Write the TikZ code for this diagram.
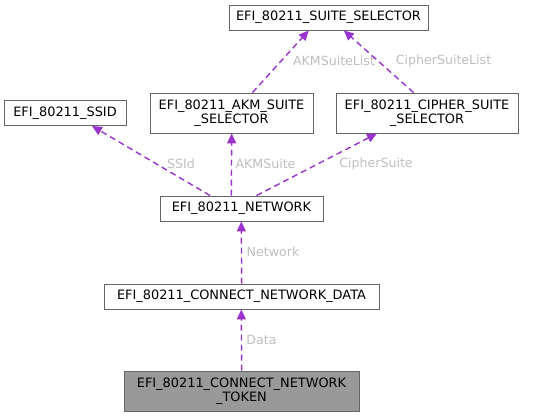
\documentclass[tikz,border=0pt]{standalone}
\usepackage{fontspec}
\setmainfont{DejaVu Sans}
\usepackage{tikz}
\usetikzlibrary{arrows.meta}

\definecolor{edgepurple}{HTML}{9A32CD}
\definecolor{lblgrey}{HTML}{BEBEBE}
\definecolor{boxgrey}{HTML}{666666}
\definecolor{tokfill}{HTML}{999999}

\tikzset{
  cls/.style={draw=boxgrey,line width=0.9pt,fill=white,inner xsep=2pt,inner ysep=0pt,
    minimum height=25pt,align=center,font=\fontsize{12.9}{14}\selectfont},
  cls2/.style={cls,minimum height=40pt},
  lbl/.style={text=lblgrey,inner sep=0pt,font=\fontsize{12.6}{14}\selectfont},
  dep/.style={draw=edgepurple,line width=1.4pt,dash pattern=on 6pt off 4pt,
    -{Triangle[length=10pt,width=9pt,fill=edgepurple]}}
}

\begin{document}
\begin{tikzpicture}[x=1pt,y=-1pt]
\useasboundingbox (0,0) rectangle (546,417);

\node[cls,minimum width=199pt] (suite) at (328.5,17.5) {EFI\_80211\_SUITE\_SELECTOR};
\node[cls,minimum width=122pt] (ssid) at (65,113) {EFI\_80211\_SSID};
\node[cls2,minimum width=163pt] (akm) at (231.5,113) {EFI\_80211\_AKM\_SUITE\\\_SELECTOR};
\node[cls2,minimum width=182pt] (cipher) at (427,113) {EFI\_80211\_CIPHER\_SUITE\\\_SELECTOR};
\node[cls,minimum width=163pt] (network) at (241.5,208.5) {EFI\_80211\_NETWORK};
\node[cls,minimum width=275pt] (data) at (241.5,296.5) {EFI\_80211\_CONNECT\_NETWORK\_DATA};
\node[cls2,minimum width=235pt,fill=tokfill] (token) at (241.5,391) {EFI\_80211\_CONNECT\_NETWORK\\\_TOKEN};

% suite selector lists
\draw[dep] ([xshift=21pt]akm.north) -- ([xshift=-19.7pt]suite.south);
\node[lbl] (lakmlist) at (334,61) {AKMSuiteList};
\draw[dep] ([xshift=-13.5pt]cipher.north) -- ([xshift=15.3pt]suite.south);
\node[lbl] (lcipherlist) at (443.5,61) {CipherSuiteList};

% network members
\draw[dep] ([xshift=-31.5pt]network.north) -- ([xshift=27pt]ssid.south);
\node[lbl] (lssid) at (181,164) {SSId};
\draw[dep] ([xshift=-10.2pt]network.north) -- ([xshift=0.2pt]akm.south);
\node[lbl] (lakm) at (265.5,164) {AKMSuite};
\draw[dep] ([xshift=15pt]network.north) -- ([xshift=-50pt]cipher.south);
\node[lbl] (lcipher) at (376,164) {CipherSuite};

\draw[dep] ([xshift=0.2pt]data.north) -- ([xshift=-0.2pt]network.south);
\node[lbl] (lnetwork) at (273,251.5) {Network};
\draw[dep] ([xshift=0.2pt]token.north) -- ([xshift=-0.2pt]data.south);
\node[lbl] (ldata) at (261.5,340) {Data};
\end{tikzpicture}
\end{document}
